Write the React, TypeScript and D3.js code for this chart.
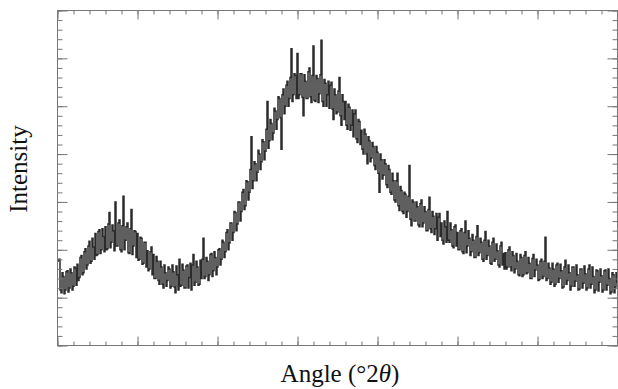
import { useEffect, useRef } from 'react'
import * as d3 from 'd3'

// scan: 10–45 °2θ, 0.0625° step (16 readings per degree)
const angleStart = 10
const angleStep = 0.0625

const intensity: number[] = [
  88, 89, 90, 58, 55, 76, 72, 54, 58, 77, 78, 56, 60, 80, 76, 58, // 10
  62, 82, 81, 63, 85, 68, 71, 92, 94, 74, 76, 98, 101, 80, 84, 104, // 11
  109, 86, 88, 112, 103, 90, 117, 94, 95, 119, 121, 96, 100, 122, 114, 98, // 12
  124, 100, 101, 127, 139, 102, 108, 126, 120, 99, 150, 104, 104, 128, 131, 100, // 13
  98, 125, 156, 100, 110, 124, 128, 97, 96, 122, 142, 95, 104, 120, 119, 92, // 14
  117, 89, 90, 113, 112, 85, 86, 108, 108, 82, 99, 78, 80, 98, 103, 74, // 15
  95, 70, 70, 93, 88, 68, 64, 88, 82, 64, 60, 84, 76, 62, 68, 82, // 16
  80, 60, 62, 84, 77, 61, 55, 83, 74, 58, 90, 62, 63, 85, 79, 60, // 17
  60, 83, 84, 60, 71, 86, 58, 84, 95, 63, 66, 88, 82, 63, 64, 89, // 18
  70, 90, 112, 70, 72, 92, 88, 68, 74, 95, 96, 72, 78, 98, 92, 74, // 19
  82, 100, 101, 84, 90, 110, 108, 92, 98, 118, 121, 100, 107, 128, 128, 110, // 20
  118, 140, 139, 120, 127, 150, 150, 130, 140, 160, 163, 142, 146, 172, 171, 152, // 21
  160, 184, 218, 164, 172, 192, 190, 172, 181, 204, 200, 184, 192, 215, 213, 194, // 22
  203, 226, 255, 206, 214, 236, 232, 215, 222, 248, 245, 226, 236, 260, 258, 238, // 23
  205, 262, 268, 242, 250, 272, 276, 250, 258, 280, 310, 255, 262, 284, 282, 258, // 24
  305, 258, 262, 284, 284, 259, 240, 283, 276, 258, 258, 286, 290, 260, 254, 282, // 25
  313, 256, 255, 282, 279, 254, 263, 283, 319, 255, 250, 278, 274, 250, 262, 276, // 26
  248, 272, 275, 247, 236, 268, 262, 242, 244, 266, 280, 240, 230, 262, 255, 236, // 27
  255, 230, 226, 252, 249, 225, 230, 246, 218, 242, 246, 216, 212, 236, 234, 210, // 28
  225, 205, 200, 226, 221, 200, 190, 218, 214, 192, 196, 212, 208, 188, 184, 208, // 29
  202, 180, 160, 200, 194, 174, 178, 194, 190, 168, 165, 188, 184, 160, 158, 180, // 30
  172, 152, 150, 172, 180, 146, 141, 166, 162, 140, 138, 160, 158, 134, 140, 156, // 31
  188, 132, 125, 152, 150, 130, 130, 150, 145, 126, 124, 148, 152, 124, 128, 145, // 32
  140, 120, 120, 142, 155, 122, 118, 140, 135, 116, 122, 138, 110, 134, 138, 114, // 33
  128, 110, 106, 130, 124, 108, 140, 110, 108, 128, 121, 104, 102, 124, 126, 104, // 34
  118, 100, 100, 120, 122, 98, 96, 118, 130, 97, 104, 120, 112, 94, 98, 116, // 35
  110, 92, 92, 114, 125, 94, 97, 112, 108, 90, 88, 110, 119, 90, 94, 110, // 36
  104, 86, 85, 108, 112, 88, 90, 106, 99, 84, 82, 104, 108, 84, 96, 80, // 37
  97, 80, 82, 100, 103, 82, 78, 98, 94, 76, 80, 96, 88, 74, 73, 95, // 38
  92, 72, 74, 94, 98, 75, 76, 92, 86, 70, 70, 91, 95, 72, 79, 90, // 39
  84, 68, 69, 88, 90, 70, 72, 88, 113, 68, 70, 86, 81, 64, 66, 86, // 40
  80, 62, 64, 84, 86, 66, 70, 85, 78, 60, 61, 82, 89, 64, 68, 84, // 41
  76, 58, 62, 82, 82, 62, 67, 84, 74, 58, 59, 80, 80, 60, 65, 83, // 42
  75, 58, 60, 80, 84, 60, 64, 82, 72, 55, 58, 79, 78, 57, 66, 80, // 43
  73, 56, 58, 78, 79, 58, 63, 80, 70, 54, 56, 76, 74, 55, 61, 76, // 44
  66, // 45
]

const xDomain: [number, number] = [10, 45]
const yDomain: [number, number] = [0, 350]

export default function App() {
  const svgRef = useRef<SVGSVGElement>(null)
  const width = 618
  const height = 389
  const margin = { top: 10.5, right: 0.5, bottom: 43.5, left: 57.5 }

  useEffect(() => {
    if (!svgRef.current) return
    const svg = d3.select(svgRef.current)
    svg.selectAll('*').remove()

    const innerWidth = width - margin.left - margin.right
    const innerHeight = height - margin.top - margin.bottom

    const x = d3.scaleLinear().domain(xDomain).range([0, innerWidth])
    const y = d3.scaleLinear().domain(yDomain).range([innerHeight, 0])

    const data = intensity.map((v, i) => ({ a: angleStart + i * angleStep, v }))

    const g = svg.append('g').attr('transform', `translate(${margin.left},${margin.top})`)

    g.append('clipPath').attr('id', 'plot-clip')
      .append('rect').attr('width', innerWidth).attr('height', innerHeight)

    const line = d3.line<{ a: number; v: number }>()
      .x(d => x(d.a))
      .y(d => y(d.v))
      .curve(d3.curveStep)

    g.append('path')
      .datum(data)
      .attr('clip-path', 'url(#plot-clip)')
      .attr('fill', 'none')
      .attr('stroke', '#2b2b2b')
      .attr('stroke-width', 1.5)
      .attr('d', line)

    const tickColor = '#777'
    const addAxis = (axis: d3.Axis<d3.NumberValue>, tx: number, ty: number) => {
      const a = g.append('g').attr('transform', `translate(${tx},${ty})`).call(axis)
      a.select('.domain').remove()
      a.selectAll('line').attr('stroke', tickColor)
      a.selectAll('text').remove()
    }

    const xMinor = d3.range(xDomain[0], xDomain[1] + 0.01, 1)
    const xMajor = d3.range(xDomain[0], xDomain[1] + 0.01, 5)
    const yMinor = d3.range(yDomain[0], yDomain[1] + 0.01, 10)
    const yMajor = d3.range(yDomain[0], yDomain[1] + 0.01, 50)

    addAxis(d3.axisBottom(x).tickValues(xMinor).tickSize(-4).tickFormat(() => ''), 0, innerHeight)
    addAxis(d3.axisBottom(x).tickValues(xMajor).tickSize(-9).tickFormat(() => ''), 0, innerHeight)
    addAxis(d3.axisTop(x).tickValues(xMinor).tickSize(-4).tickFormat(() => ''), 0, 0)
    addAxis(d3.axisTop(x).tickValues(xMajor).tickSize(-9).tickFormat(() => ''), 0, 0)
    addAxis(d3.axisLeft(y).tickValues(yMinor).tickSize(-5).tickFormat(() => ''), 0, 0)
    addAxis(d3.axisLeft(y).tickValues(yMajor).tickSize(-10).tickFormat(() => ''), 0, 0)
    addAxis(d3.axisRight(y).tickValues(yMinor).tickSize(-5).tickFormat(() => ''), innerWidth, 0)
    addAxis(d3.axisRight(y).tickValues(yMajor).tickSize(-10).tickFormat(() => ''), innerWidth, 0)

    g.append('rect')
      .attr('width', innerWidth)
      .attr('height', innerHeight)
      .attr('fill', 'none')
      .attr('stroke', tickColor)
      .attr('stroke-width', 1)

    svg.append('text')
      .attr('transform', 'translate(27,169) rotate(-90)')
      .attr('text-anchor', 'middle')
      .attr('font-family', '"Liberation Serif", serif')
      .attr('font-size', 25)
      .attr('fill', '#111')
      .text('Intensity')

    const xl = svg.append('text')
      .attr('x', 340)
      .attr('y', 382)
      .attr('text-anchor', 'middle')
      .attr('font-family', '"Liberation Serif", serif')
      .attr('font-size', 25)
      .attr('fill', '#111')
    xl.append('tspan').text('Angle (°2')
    xl.append('tspan').attr('font-style', 'italic').text('θ')
    xl.append('tspan').text(')')
  }, [])

  return (
    <svg
      ref={svgRef}
      width={width}
      height={height}
      style={{ position: 'absolute', left: 0, top: 0, background: '#fff' }}
    />
  )
}
